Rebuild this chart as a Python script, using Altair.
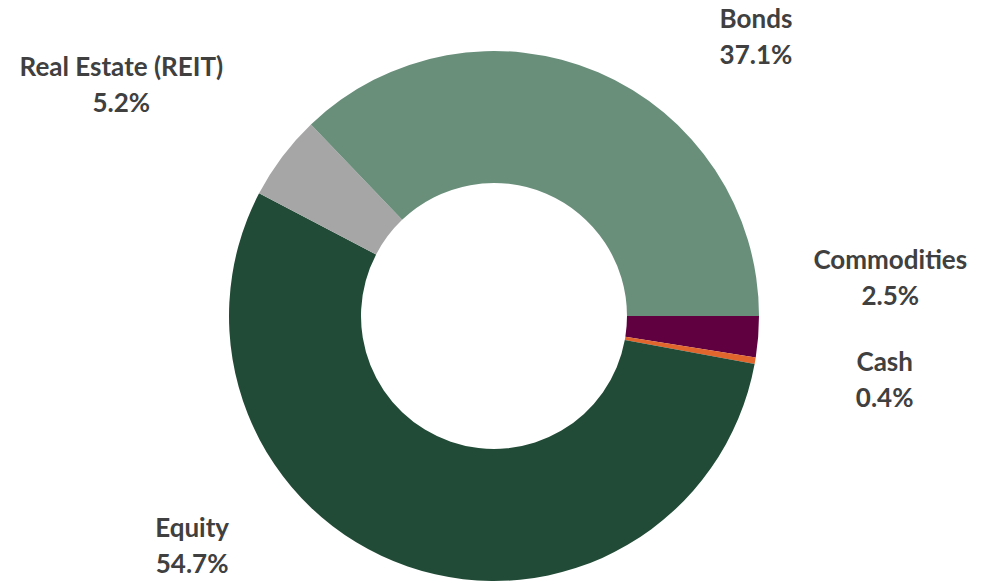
import altair as alt
import pandas as pd
import math

# slice data (clockwise from 3 o'clock)
categories = ["Commodities", "Cash", "Equity", "Real Estate (REIT)", "Bonds"]
shares = [2.5, 0.4, 54.7, 5.2, 37.1]
colors = ["#600040", "#e0662e", "#214b36", "#a6a6a6", "#698f7b"]

# label placement (Excel "best fit" layout): angle in degrees clockwise from 12 o'clock, distance in px
label_angle = [84.7, 99.4, 232.6, 301.7, 43.3]
label_dist = [398, 396, 380, 438, 382]

CX, CY = 494, 316

df = pd.DataFrame({
    "category": categories,
    "share": shares,
    "order": list(range(len(categories))),
    "label": [f"{c}\n{s:.1f}%" for c, s in zip(categories, shares)],
    "lang": label_angle,
    "ldist": label_dist,
})

color_scale = alt.Scale(domain=categories, range=colors)

arcs = alt.Chart(df).mark_arc(outerRadius=265, innerRadius=133).encode(
    theta=alt.Theta("share:Q", stack=True,
                    scale=alt.Scale(range=[math.pi / 2, math.pi / 2 + 2 * math.pi])),
    order=alt.Order("order:Q"),
    color=alt.Color("category:N", scale=color_scale, legend=None),
    x=alt.value(CX),
    y=alt.value(CY),
)

labels = alt.Chart(df).mark_text(
    font="Lato", fontWeight="bold", fontSize=26, color="#404040",
    lineBreak="\n", lineHeight=36, align="center", baseline="middle", dy=-18,
).encode(
    theta=alt.Theta("lang:Q", stack=False,
                    scale=alt.Scale(domain=[0, 360], range=[0, 2 * math.pi])),
    radius=alt.Radius("ldist:Q", scale=alt.Scale(type="linear", domain=[0, 500], range=[0, 500], zero=True)),
    text="label:N",
    x=alt.value(CX),
    y=alt.value(CY),
)

chart = alt.layer(arcs, labels).resolve_scale(theta="independent").properties(
    width=989, height=582, autosize="none", padding=0,
    background="white",
).configure_view(stroke=None)

chart.save("out.html", embed_options={"renderer": "svg", "actions": False})
